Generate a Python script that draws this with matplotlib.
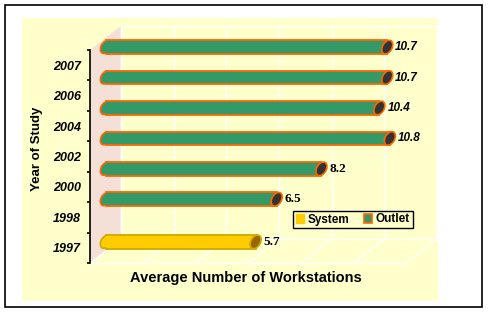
import matplotlib
matplotlib.use("Agg")
import matplotlib.pyplot as plt
import numpy as np
from matplotlib.patches import Rectangle, Polygon, Ellipse, Patch
from matplotlib.transforms import IdentityTransform

# ── Data ────────────────────────────────────────────────
years = ["1997", "1998", "2000", "2002", "2004", "2006", "2007"]
system = [5.7, 0, 0, 0, 0, 0, 0]
outlet = [0, 6.5, 8.2, 10.8, 10.4, 10.7, 10.7]

X_MAX = 12
GRID_STEP = 2

BG = "#FFFFCC"
GREEN = "#339966"
ORANGE = "#FF6600"
YELLOW = "#FFCC00"
DEPTH = np.array([31.0, 24.0])  # px shift from front to back plane

plt.rcParams["hatch.color"] = "#B8B8B8"
plt.rcParams["hatch.linewidth"] = 0.6

W, H = 492, 314
fig = plt.figure(figsize=(W / 100, H / 100), dpi=100)
fig.patch.set_facecolor("white")

# outer frame and chart area
fig.patches.append(Rectangle((5 / W, 1 - 307 / H), 477 / W, 302 / H, transform=fig.transFigure,
                             facecolor="white", edgecolor="black", linewidth=1.2, zorder=-2))
fig.patches.append(Rectangle((22 / W, 1 - 301 / H), 416 / W, 283 / H, transform=fig.transFigure,
                             facecolor=BG, edgecolor="none", zorder=-1))

ax = fig.add_axes([90 / W, 51 / H, 316 / W, 213 / H])
ax.patch.set_visible(False)
ax.set_xlim(0, X_MAX)
ax.set_ylim(-0.5, len(years) - 0.5)
for s in ["top", "right", "bottom"]:
    ax.spines[s].set_visible(False)
ax.spines["left"].set_linewidth(1.2)
ax.spines["left"].set_zorder(4)
ax.set_xticks([])
ax.set_yticks(range(len(years)))
ax.set_yticklabels(years, fontfamily="Liberation Sans", fontweight="bold",
                   fontstyle="italic", fontsize=9)
ax.tick_params(axis="y", which="major", length=0, pad=6.5)
ax.set_yticks(np.arange(-0.5, len(years)), minor=True)
ax.tick_params(axis="y", which="minor", length=2.5, width=1.2)

ID = IdentityTransform()


def P(x, y, d=0.0):
    return ax.transData.transform((x, y)) + d * DEPTH


y0, y1 = -0.5, len(years) - 0.5

# left side wall (dithered pink)
wall = [P(0, y0), P(0, y1), P(0, y1, 1), P(0, y0, 1)]
ax.add_patch(Polygon(wall, closed=True, transform=ID, clip_on=False, facecolor="#F4E0D6",
                     edgecolor="none", hatch="xxxxx", zorder=1))

# back wall
bl, tr = P(0, y0, 1), P(X_MAX, y1, 1)
ax.add_patch(Rectangle(bl, tr[0] - bl[0], tr[1] - bl[1], transform=ID, clip_on=False,
                       facecolor=BG, edgecolor="white", linewidth=1, zorder=1))
for gx in np.arange(0, X_MAX + 0.1, GRID_STEP):
    a, b = P(gx, y0, 1), P(gx, y1, 1)
    ax.plot([a[0], b[0]], [a[1], b[1]], color="white", lw=1, transform=ID, clip_on=False, zorder=1.5)
    f = P(gx, y0, 0)
    ax.plot([f[0], a[0]], [f[1], a[1]], color="white", lw=1, transform=ID, clip_on=False, zorder=1.5)
f0, f1 = P(0, y0), P(X_MAX, y0)
ax.plot([f0[0], f1[0]], [f0[1], f1[1]], color="white", lw=1, transform=ID, clip_on=False, zorder=1.5)

# bars (cylinders at mid depth)
BAR_H = 0.45


def cylinder(v, yc, face, edge, cap):
    if v <= 0:
        return
    lo, hi = P(0, yc - BAR_H / 2, 0.5), P(v, yc + BAR_H / 2, 0.5)
    c0, c1 = P(0, yc, 0.5), P(v, yc, 0.5)
    hpx = hi[1] - lo[1]
    ax.add_patch(Ellipse(c0, 9, hpx, angle=-28, transform=ID, clip_on=False,
                         facecolor=face, edgecolor=edge, lw=1.2, zorder=3))
    ax.add_patch(Rectangle(lo, hi[0] - lo[0], hpx, transform=ID, clip_on=False,
                           facecolor=face, edgecolor="none", zorder=3.1))
    for yy in (lo[1], hi[1]):
        ax.plot([lo[0], hi[0]], [yy, yy], color=edge, lw=1.3, transform=ID, clip_on=False, zorder=3.2)
    ax.add_patch(Ellipse(c1, 9.5, hpx + 1, angle=-30, transform=ID, clip_on=False,
                         facecolor=cap, edgecolor=edge, lw=1.2, zorder=3.3))
    txt = f"{v:.1f}"
    serif = v < 10
    ax.text(c1[0] + 8, c1[1], txt, transform=ID, va="center", ha="left",
            fontsize=9.5 if serif else 8.5,
            fontweight="bold", fontstyle="normal" if serif else "italic",
            fontfamily="Liberation Serif" if serif else "Liberation Sans", zorder=5)


for i, (s, o) in enumerate(zip(system, outlet)):
    cylinder(s, i - 0.2, YELLOW, "#D0A800", "#996600")
    cylinder(o, i + 0.2, GREEN, ORANGE, "#333333")

# titles
fig.text(37 / W, 1 - 149 / H, "Year of Study", rotation=90, ha="center", va="center",
         fontfamily="Liberation Sans", fontweight="bold", fontsize=9.5)
fig.text(246 / W, 1 - 278 / H, "Average Number of Workstations", ha="center", va="center",
         fontfamily="Liberation Sans", fontweight="bold", fontsize=10.5)

handles = [Patch(facecolor=YELLOW, edgecolor=YELLOW, label="System"),
           Patch(facecolor=GREEN, edgecolor=ORANGE, linewidth=1.2, label="Outlet")]
leg = fig.legend(handles=handles, loc="center", bbox_to_anchor=(353 / W, 1 - 219.5 / H),
                 ncol=2, frameon=True, fancybox=False, facecolor=BG, edgecolor="black",
                 framealpha=1, handlelength=0.7, handleheight=0.7, handletextpad=0.3,
                 columnspacing=1.2, borderpad=0.25,
                 prop={"family": "Liberation Sans", "weight": "bold", "size": 8.5})
leg.get_frame().set_linewidth(1)
leg.set_zorder(10)

fig.savefig("out.png", dpi=100)
